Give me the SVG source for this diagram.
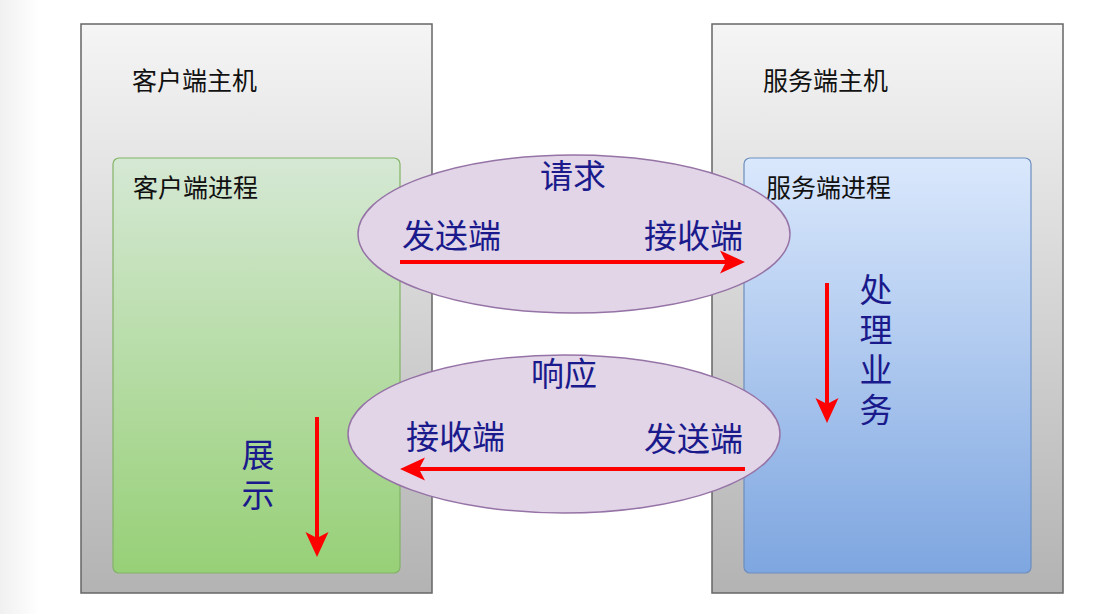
<svg xmlns="http://www.w3.org/2000/svg" width="1115" height="614" viewBox="0 0 1115 614">
  <defs>
    <linearGradient id="gHost" x1="0" y1="0" x2="0" y2="1">
      <stop offset="0" stop-color="#f5f5f5"/>
      <stop offset="1" stop-color="#b3b3b3"/>
    </linearGradient>
    <linearGradient id="gGreen" x1="0" y1="0" x2="0" y2="1">
      <stop offset="0" stop-color="#d5e8d4"/>
      <stop offset="1" stop-color="#97d077"/>
    </linearGradient>
    <linearGradient id="gBlue" x1="0" y1="0" x2="0" y2="1">
      <stop offset="0" stop-color="#dae8fc"/>
      <stop offset="1" stop-color="#7ea6e0"/>
    </linearGradient>
    <linearGradient id="gEdge" x1="0" y1="0" x2="1" y2="0">
      <stop offset="0" stop-color="#f0f0f0"/>
      <stop offset="1" stop-color="#ffffff"/>
    </linearGradient>
    <marker id="arrow" viewBox="0 -12 25 24" markerWidth="25" markerHeight="24" refX="6" refY="0" orient="auto" markerUnits="userSpaceOnUse">
      <path d="M0,-11.5 L25,0 L0,11.5 L6,0 Z" fill="#ff0000"/>
    </marker>
    <style>
      .host { fill: url(#gHost); stroke: #666666; stroke-width: 1.5; }
      .proc-c { fill: url(#gGreen); stroke: #82b366; stroke-width: 1.2; }
      .proc-s { fill: url(#gBlue); stroke: #6c8ebf; stroke-width: 1.2; }
      .bubble { fill: #e1d5e7; stroke: #9673a6; stroke-width: 1.5; }
      .title { font-family: "Noto Sans CJK SC", "Noto Sans", sans-serif; font-size: 25px; fill: #111111; }
      .lbl { font-family: "Noto Sans CJK SC", "Noto Sans", sans-serif; font-size: 33px; fill: #1a1a8c; }
      .vert { writing-mode: vertical-rl; letter-spacing: 7px; }
      .flow { fill: none; stroke: #ff0000; stroke-width: 4; marker-end: url(#arrow); }
    </style>
  </defs>

  <rect x="0" y="0" width="1115" height="614" fill="#ffffff"/>
  <rect x="0" y="0" width="40" height="614" fill="url(#gEdge)"/>

  <g id="client-host">
    <rect class="host" x="81" y="24" width="351" height="569"/>
    <text class="title" x="132" y="90">客户端主机</text>
  </g>
  <g id="client-process">
    <rect class="proc-c" x="113" y="158" width="287" height="415" rx="6"/>
    <text class="title" x="133" y="197">客户端进程</text>
    <text class="lbl vert" x="258" y="438">展示</text>
  </g>

  <g id="server-host">
    <rect class="host" x="712" y="24" width="351" height="569"/>
    <text class="title" x="763" y="90">服务端主机</text>
  </g>
  <g id="server-process">
    <rect class="proc-s" x="744" y="158" width="287" height="415" rx="6"/>
    <text class="title" x="766" y="197">服务端进程</text>
    <text class="lbl vert" x="876" y="273">处理业务</text>
  </g>

  <g id="request">
    <ellipse class="bubble" cx="574" cy="234" rx="216" ry="79"/>
    <text class="lbl" x="573" y="188" text-anchor="middle">请求</text>
    <text class="lbl" x="402" y="248">发送端</text>
    <text class="lbl" x="743" y="248" text-anchor="end">接收端</text>
  </g>

  <g id="response">
    <ellipse class="bubble" cx="564" cy="434" rx="216" ry="79"/>
    <text class="lbl" x="564" y="386" text-anchor="middle">响应</text>
    <text class="lbl" x="406" y="449">接收端</text>
    <text class="lbl" x="743" y="451" text-anchor="end">发送端</text>
  </g>

  <g id="connectors">
    <path class="flow" d="M400,262 L726,262"/>
    <path class="flow" d="M745,469 L419,469"/>
    <path class="flow" d="M317,417 L317,538"/>
    <path class="flow" d="M827,283 L827,404"/>
  </g>
</svg>
